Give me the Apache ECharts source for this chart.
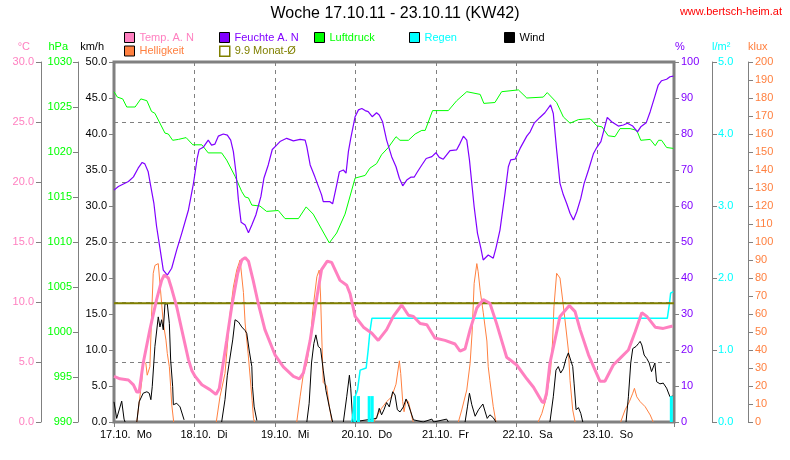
<!DOCTYPE html>
<html>
<head>
<meta charset="utf-8">
<script src="https://cdn.jsdelivr.net/npm/echarts@6/dist/echarts.min.js"></script>
<style>
html,body{margin:0;padding:0;background:#fff;}
#chart{width:790px;height:460px;}
</style>
</head>
<body>
<div id="chart"></div>
<script>
// x values are hours since 17.10.11 00:00
const dayLabels = ['17.10.  Mo','18.10.  Di','19.10.  Mi','20.10.  Do','21.10.  Fr','22.10.  Sa','23.10.  So'];
const monthAvgTemp = 9.9;

// Temp. A. N (°C)
const temperature = [[0,3.8],[1.8,3.6],[4.3,3.5],[5.8,3.1],[6.8,2.5],[7.5,2.5],[8.7,4.9],[10.7,7.7],[12.7,10.2],[14.2,11.8],[15.0,12.25],[16.2,12.0],[17.2,11.1],[18.7,9.6],[20.2,7.7],[22.2,5.2],[23.2,4.3],[24.2,3.8],[26.2,3.1],[28.6,2.7],[30.4,2.3],[31.4,2.8],[33.6,6.8],[35.1,9.6],[36.9,12.4],[38.1,13.5],[39.1,13.7],[40.1,13.4],[41.5,11.8],[43.0,9.9],[45.0,7.7],[48.0,5.6],[50.5,4.6],[53.5,3.8],[55.3,3.6],[56.5,4.1],[58.5,6.8],[60.5,10.4],[61.9,12.7],[63.6,13.4],[64.9,13.3],[67.4,11.8],[69.4,11.4],[70.4,10.7],[71.9,8.8],[74.4,7.9],[76.9,7.4],[78.8,6.8],[81.3,7.7],[83.3,8.8],[85.8,9.75],[87.8,8.9],[89.3,8.8],[91.3,8.2],[93.3,8.1],[95.7,7.0],[98.7,6.8],[101.7,6.5],[103.2,5.9],[104.7,6.1],[106.2,7.7],[108.2,9.5],[110.1,10.2],[112.1,9.9],[114.1,8.2],[117.1,5.4],[120.1,4.75],[123.1,3.6],[125.1,2.9],[127.6,1.7],[128.2,1.6],[129.0,2.4],[130.0,4.9],[133.0,8.8],[135.8,9.7],[137.5,9.2],[139.0,7.7],[141.5,5.6],[143.5,4.3],[144.9,3.4],[146.4,3.4],[148.9,4.75],[150.9,5.3],[153.4,6.0],[155.4,7.5],[157.4,9.1],[158.9,8.8],[161.4,7.9],[163.8,7.8],[166.6,8.0]];

// Feuchte A. N (%)
const humidity = [[0,64.4],[1.3,65.4],[2.8,66.1],[4.3,66.8],[5.8,68.1],[7.2,70.5],[8.4,72.1],[9.2,71.7],[10.2,69.5],[10.9,65.8],[11.9,60.7],[12.7,54.3],[13.7,48.3],[14.7,42.2],[15.9,40.8],[17.2,42.7],[18.7,47.8],[20.2,52.4],[22.2,58.9],[23.7,66.3],[24.8,73.2],[25.4,75.7],[26.6,76.3],[28.1,78.3],[29.1,76.9],[30.1,77.2],[31.1,79.4],[32.6,80.0],[33.8,79.7],[34.8,78.3],[35.6,75.1],[36.4,69.1],[37.1,61.7],[37.9,55.5],[39.1,54.7],[40.1,52.6],[41.1,54.7],[42.3,57.5],[43.8,62.6],[44.7,67.7],[46.0,71.4],[47.2,75.7],[48.5,76.9],[49.5,77.9],[51.5,78.8],[53.5,78.1],[55.5,78.5],[57.0,78.3],[57.5,76.5],[58.5,71.4],[59.9,68.1],[60.9,65.6],[61.9,63.1],[62.4,61.2],[64.4,61.2],[65.2,60.6],[66.4,65.8],[67.2,69.5],[68.4,70.0],[69.2,69.1],[69.9,75.1],[70.6,78.8],[71.9,84.8],[72.9,86.7],[73.9,87.1],[74.9,86.5],[75.8,86.2],[77.0,84.8],[78.3,85.9],[79.1,85.3],[80.1,83.4],[81.3,78.3],[82.8,73.7],[84.1,70.9],[85.1,67.7],[86.1,65.6],[87.3,67.2],[88.5,68.0],[89.5,68.0],[90.5,69.5],[91.8,71.4],[93.1,73.2],[94.8,73.7],[96.0,74.8],[97.0,73.5],[98.2,73.0],[99.2,74.2],[100.2,75.4],[102.2,75.6],[103.2,77.4],[104.2,79.4],[105.2,78.3],[106.0,72.8],[106.7,66.3],[107.4,59.8],[108.4,52.4],[109.4,48.3],[110.1,45.0],[111.6,46.4],[113.1,45.5],[113.9,48.3],[115.1,53.3],[116.6,63.5],[117.6,70.9],[118.3,72.8],[119.6,73.0],[121.1,76.0],[123.1,79.4],[124.1,80.6],[125.3,83.0],[127.0,84.6],[128.5,85.9],[130.2,88.1],[131.0,85.7],[132.0,75.6],[133.0,66.3],[134.0,63.1],[135.0,60.7],[136.0,58.0],[137.0,56.1],[138.0,58.4],[139.2,62.1],[140.2,66.3],[141.5,70.0],[143.0,74.6],[144.0,76.3],[145.2,77.9],[146.1,81.1],[147.1,84.6],[148.4,83.4],[150.4,82.2],[151.9,82.5],[153.1,83.0],[154.7,82.2],[156.1,80.6],[157.1,82.0],[158.7,83.1],[159.9,86.2],[161.4,90.8],[162.3,93.6],[163.3,94.8],[164.8,95.2],[165.8,95.9],[166.8,96.1]];

// Luftdruck (hPa)
const pressure = [[0,1026.7],[1,1026.1],[2.6,1025.9],[3.8,1025.0],[6.3,1025.0],[8,1025.9],[9.8,1025.7],[11.2,1024.5],[12.2,1024.3],[15.2,1022.1],[16.2,1022.0],[17.5,1021.3],[19.2,1021.4],[21.5,1021.6],[23.5,1020.8],[26.2,1020.8],[28.1,1019.9],[32.1,1019.9],[33.6,1019.1],[36.1,1017.3],[38.1,1015.6],[39.1,1015.0],[40.1,1014.9],[41.1,1014.1],[43.5,1014.0],[45.5,1013.4],[49,1013.5],[51,1012.6],[55,1012.6],[57.3,1013.9],[59.4,1013.1],[60.9,1012.1],[64.2,1009.9],[66.4,1011.0],[68.9,1013.1],[71.9,1017.1],[74.9,1017.4],[76.3,1018.2],[78.3,1018.7],[79.8,1019.7],[81.8,1020.5],[84.1,1021.7],[85.3,1021.3],[87.8,1021.3],[89.8,1022.0],[91.8,1022.4],[92.8,1022.4],[95,1024.6],[99.7,1024.6],[102.2,1025.7],[105.2,1026.7],[109.2,1026.4],[110.3,1025.4],[113.6,1025.5],[115.6,1026.7],[120.6,1026.9],[123.1,1026.0],[128,1026.1],[129.2,1026.6],[132,1025.5],[134,1023.9],[136,1023.2],[138.5,1023.6],[142,1023.7],[144,1022.9],[145.5,1022.8],[147.4,1021.8],[149.4,1021.7],[150.9,1022.6],[153.9,1022.6],[155.9,1022.4],[157.1,1021.3],[159.9,1021.4],[161.4,1020.7],[162.4,1021.3],[163.3,1021.3],[164.8,1020.5],[166.8,1020.4]];

// Helligkeit (klux); [h, null] marks a gap
const brightness = [[6.8,0],[8.3,23],[8.7,33.5],[9.5,32.6],[9.9,26],[10.7,30.7],[11.2,58.5],[11.7,82.6],[12.2,87],[13.2,88],[13.7,77],[14.7,55],[15.5,45.5],[15.9,38],[16.5,30.7],[16.9,19.6],[17.2,10],[17.8,0],[20,null],
[30.5,0],[31.6,14],[33.1,27],[34.1,49],[34.6,60],[35.6,75],[36.6,84.4],[37.6,90],[37.9,91],[38.6,72],[39.1,55],[40.0,38],[40.6,25],[41.2,12],[41.6,2],[41.9,0],[45,null],
[54.5,0],[55.5,14],[56.5,27],[57.5,32.6],[58.5,45],[59.4,64],[60.5,80.7],[61.2,84.4],[61.6,70],[62.0,45],[62.4,22],[63.4,20],[64.1,10],[64.9,1],[65.2,0],[70,null],
[77.5,0],[78.3,3],[79.8,7.6],[81.3,11.3],[82.8,14],[83.3,15],[84.1,21],[85.1,34],[85.5,27],[86.1,11.3],[86.5,5.7],[87.1,12.2],[87.8,11.3],[88.5,5.7],[89.1,0.7],[89.3,0],[95,null],
[102.7,0],[103.7,6.7],[105.2,17.8],[106.2,32.6],[106.8,50],[107.4,77],[108.2,88],[108.6,83.5],[109.2,73],[110.1,61],[111.2,45],[111.6,30.7],[112.1,23],[113.1,8.5],[113.9,0],[120,null],
[126.5,0],[127.6,4.8],[129.0,14],[130.2,29],[130.8,45],[131.2,64],[132.0,82.6],[132.5,82.6],[133.0,80],[133.8,67.8],[134.6,55],[135.5,40],[136.0,23],[136.8,6.7],[137.5,0],[145,null],
[151.1,0],[152.4,6.7],[153.7,11.3],[154.7,16],[155.2,18.7],[155.9,14],[156.9,11.3],[158.4,8.5],[159.9,3.9],[160.8,0]];

// Wind (km/h); [h, null] marks a gap
const wind = [[0,2.8],[0.8,0.5],[2.3,2.9],[3.0,0.4],[3.3,0],[4,null],
[6.8,0],[7.5,2.8],[8.7,4.0],[9.8,4.2],[10.5,4.0],[11.0,3.1],[11.4,4.9],[12.2,10.5],[13.2,14.6],[13.7,13.2],[14.2,14.2],[14.7,12.8],[15.2,16.4],[15.9,16.4],[16.5,13.7],[16.9,8.6],[17.5,4.9],[17.7,2.4],[18.7,2.6],[19.7,2.1],[20.9,0.3],[22,null],
[32.1,0],[33.1,3.1],[33.8,6.5],[35.4,11.4],[36.1,14.2],[37.1,13.9],[38.1,13.2],[39.1,12.7],[39.6,12.3],[40.3,10],[41.1,7.7],[41.3,4.9],[41.8,2.1],[42.6,0.2],[44,null],
[57.5,0],[58.2,2.6],[58.9,8.2],[59.6,10.9],[60.2,12.1],[60.9,10.5],[61.6,10.2],[62.4,7.2],[63.2,4.4],[64.2,2.1],[65.2,0],[66,null],
[68.4,0],[69.4,3.5],[70.2,6.5],[70.6,4.7],[71.2,0],[78.3,0.5],[79.1,1.9],[79.8,1.0],[80.5,1.7],[81.3,2.7],[82.1,2.1],[83.1,4.2],[83.8,3.75],[84.5,1.7],[85.3,1.4],[86.3,2.1],[87.1,3.2],[87.8,2.4],[88.5,1.4],[89.3,0.3],[92.2,0],[94.8,0.4],[95.3,0],[99.2,0.4],[99.7,0],[101,null],
[104.7,0],[105.4,2.1],[106.0,4.0],[106.7,2.4],[107.7,0.8],[108.7,1.7],[110.0,2.5],[110.7,1.4],[111.3,0.5],[112.1,1.0],[113.1,0.6],[113.9,0],[120,null],
[130.0,0],[131.0,3.5],[131.8,7.2],[132.5,7.7],[133.2,6.8],[134.0,7.4],[134.8,8.8],[135.5,9.6],[136.0,9.4],[136.8,7.7],[137.2,5.4],[137.8,1.7],[138.5,2.0],[139.2,1.2],[139.8,0],[145,null],
[152.7,0],[153.4,3.5],[154.1,8.2],[154.7,10.2],[155.7,10.5],[156.4,10.9],[156.9,11.2],[157.4,10.7],[158.1,9.3],[158.9,8.8],[159.6,8.2],[160.3,7.0],[161.3,8.2],[161.8,5.6],[162.8,5.3],[163.8,5.4],[164.8,4.7],[165.8,3.5],[166.6,3.6]];

// Regen (l/m²): running total and single amounts
const rainTotal = [[70.9,0],[71.9,0.35],[72.6,0.44],[73.4,0.72],[75.2,0.75],[75.8,1.0],[76.3,1.25],[76.9,1.44],[165.0,1.44],[165.6,1.63],[166.0,1.79],[166.8,1.81]];
const rainAmount = [[71.8,0.36],[72.9,0.36],[76.1,0.36],[77.0,0.36],[166.2,0.36]];

const FONT = 'Liberation Sans';
const GREY = '#808080';
const C = {temp:'#ff80c0', hum:'#8000ff', press:'#00ff00', rain:'#00ffff', wind:'#000000', light:'#ff8040', avg:'#808000'};

function yAxisDef(o) {
  return Object.assign({
    type: 'value',
    nameGap: 10,
    axisLine: {show: true, lineStyle: {color: GREY, width: 1}},
    axisTick: {show: true, length: 5, lineStyle: {color: GREY}},
    splitLine: {show: false},
    axisLabel: {fontFamily: FONT, fontSize: 11, margin: 6},
    nameTextStyle: {fontFamily: FONT, fontSize: 11}
  }, o);
}

function legendDef(name, color, left, top, itemStyle) {
  return {
    left: left, top: top, padding: 0, itemGap: 0,
    itemWidth: 10, itemHeight: 10, icon: 'rect', selectedMode: false,
    itemStyle: itemStyle || {borderColor: '#000', borderWidth: 1},
    textStyle: {fontFamily: FONT, fontSize: 11, color: color},
    data: [name]
  };
}

const chart = echarts.init(document.getElementById('chart'), null, {renderer: 'canvas'});
chart.setOption({
  animation: false,
  backgroundColor: '#fff',
  title: [
    {text: 'Woche 17.10.11 - 23.10.11 (KW42)', left: 'center', top: 6, padding: 0,
     textStyle: {fontFamily: FONT, fontSize: 16, fontWeight: 'normal', color: '#000'}},
    {text: 'www.bertsch-heim.at', right: 8, top: 6, padding: 0,
     textStyle: {fontFamily: FONT, fontSize: 11, fontWeight: 'normal', color: '#ff0000'}}
  ],
  legend: [
    legendDef('Temp. A. N', C.temp, 124, 32),
    legendDef('Helligkeit', C.light, 124, 45.5),
    legendDef('Feuchte A. N', C.hum, 219, 32),
    legendDef('9.9 Monat-Ø', C.avg, 219, 45.5, {color: 'transparent', borderColor: C.avg, borderWidth: 1.5}),
    legendDef('Luftdruck', C.press, 314, 32),
    legendDef('Regen', C.rain, 409, 32),
    legendDef('Wind', C.wind, 504, 32)
  ],
  grid: {left: 114, right: 116, top: 62, bottom: 38, show: true, borderColor: GREY, borderWidth: 3, backgroundColor: '#fff'},
  xAxis: {
    type: 'value', min: 0, max: 167, interval: 24,
    axisLine: {show: false},
    axisTick: {show: true, length: 5, lineStyle: {color: GREY}},
    splitLine: {show: true, lineStyle: {color: GREY, type: [4, 4], width: 1}},
    axisLabel: {
      fontFamily: FONT, fontSize: 11, color: '#000', margin: 7, align: 'left',
      padding: [0, 0, 0, -14],
      formatter: function (v) { const i = Math.round(v / 24); return (v % 24 === 0 && dayLabels[i]) ? dayLabels[i] : ''; }
    }
  },
  yAxis: [
    yAxisDef({name: 'km/h', position: 'left', offset: 0, min: 0, max: 50, interval: 5,
      axisLine: {show: false},
      axisLabel: {fontFamily: FONT, fontSize: 11, margin: 7, color: '#000', formatter: v => v.toFixed(1)},
      nameTextStyle: {fontFamily: FONT, fontSize: 11, color: '#000', align: 'right', padding: [0, 10, 0, 0]}}),
    yAxisDef({name: 'hPa', position: 'left', offset: 36, min: 990, max: 1030, interval: 5,
      axisLabel: {fontFamily: FONT, fontSize: 11, margin: 6, color: C.press, formatter: v => String(Math.round(v))},
      nameTextStyle: {fontFamily: FONT, fontSize: 11, color: C.press, align: 'right', padding: [0, 10, 0, 0]}}),
    yAxisDef({name: '°C', position: 'left', offset: 73, min: 0, max: 30, interval: 5,
      splitLine: {show: true, lineStyle: {color: GREY, type: [4, 4], width: 1}},
      axisLabel: {fontFamily: FONT, fontSize: 11, margin: 7, color: C.temp, formatter: v => v.toFixed(1)},
      nameTextStyle: {fontFamily: FONT, fontSize: 11, color: C.temp, align: 'right', padding: [0, 11, 0, 0]}}),
    yAxisDef({name: '%', position: 'right', offset: 0, min: 0, max: 100, interval: 10,
      axisLine: {show: false},
      axisLabel: {fontFamily: FONT, fontSize: 11, margin: 7, color: C.hum},
      nameTextStyle: {fontFamily: FONT, fontSize: 11, color: C.hum, align: 'left', padding: [0, 0, 0, 1]}}),
    yAxisDef({name: 'l/m²', position: 'right', offset: 38, min: 0, max: 5, interval: 1,
      axisLabel: {fontFamily: FONT, fontSize: 11, margin: 6, color: C.rain, formatter: v => v.toFixed(1)},
      nameTextStyle: {fontFamily: FONT, fontSize: 11, color: C.rain, align: 'left', padding: [0, 0, 0, 0]}}),
    yAxisDef({name: 'klux', position: 'right', offset: 74, min: 0, max: 200, interval: 10,
      axisLabel: {fontFamily: FONT, fontSize: 11, margin: 7, color: C.light},
      nameTextStyle: {fontFamily: FONT, fontSize: 11, color: C.light, align: 'left', padding: [0, 0, 0, 0]}})
  ],
  series: [
    {name: 'Helligkeit', type: 'line', yAxisIndex: 5, data: brightness, showSymbol: false, connectNulls: false,
     color: C.light, lineStyle: {color: C.light, width: 1}, z: 2},
    {name: 'Wind', type: 'line', yAxisIndex: 0, data: wind, showSymbol: false, connectNulls: false,
     color: C.wind, lineStyle: {color: C.wind, width: 1}, z: 3},
    {name: 'Regen', type: 'bar', yAxisIndex: 4, data: rainAmount, barWidth: 3,
     color: C.rain, itemStyle: {color: C.rain}, z: 4},
    {name: 'Regen', type: 'line', yAxisIndex: 4, data: rainTotal, showSymbol: false,
     color: C.rain, lineStyle: {color: C.rain, width: 1.5}, z: 4},
    {name: '9.9 Monat-Ø', type: 'line', yAxisIndex: 2, data: [[0, monthAvgTemp], [167, monthAvgTemp]], showSymbol: false,
     color: C.avg, lineStyle: {color: C.avg, width: 2}, z: 5,
     markLine: {silent: true, symbol: 'none', label: {show: false},
       lineStyle: {color: GREY, type: [4, 4], width: 1}, data: [{yAxis: 10}]}},
    {name: 'Luftdruck', type: 'line', yAxisIndex: 1, data: pressure, showSymbol: false,
     color: C.press, lineStyle: {color: C.press, width: 1}, z: 6},
    {name: 'Feuchte A. N', type: 'line', yAxisIndex: 3, data: humidity, showSymbol: false,
     color: C.hum, lineStyle: {color: C.hum, width: 1.2}, z: 7},
    {name: 'Temp. A. N', type: 'line', yAxisIndex: 2, data: temperature, showSymbol: false,
     color: C.temp, lineStyle: {color: C.temp, width: 3}, z: 8}
  ]
});
</script>
</body>
</html>
